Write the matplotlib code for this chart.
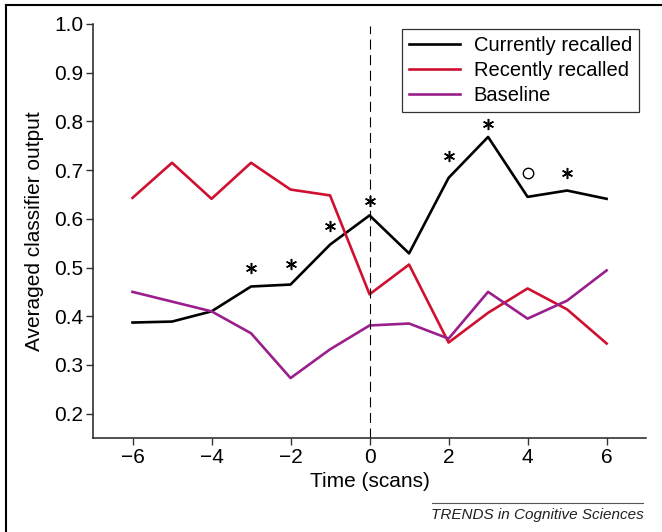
import numpy as np
import matplotlib.pyplot as plt
from matplotlib.lines import Line2D

plt.rcParams['font.family'] = ['Liberation Sans', 'DejaVu Sans']

time = [-6, -5, -4, -3, -2, -1, 0, 1, 2, 3, 4, 5, 6]
current = [0.387, 0.389, 0.410, 0.461, 0.465, 0.547, 0.607, 0.529, 0.684, 0.768, 0.645, 0.658, 0.641]
recent = [0.643, 0.715, 0.641, 0.715, 0.660, 0.648, 0.445, 0.506, 0.346, 0.407, 0.457, 0.414, 0.344]
baseline = [0.450, 0.430, 0.410, 0.365, 0.273, 0.332, 0.381, 0.385, 0.354, 0.450, 0.395, 0.432, 0.494]

# significance marks
star_t = [-3, -2, -1, 0, 2, 3, 5]
star_y = [0.498, 0.508, 0.586, 0.637, 0.728, 0.795, 0.695]
circ_t = [4]
circ_y = [0.693]

red = '#d01030'
purple = '#9a1f8c'

fig = plt.figure(figsize=(6.62, 5.32), dpi=100)
ax = fig.add_axes([0.1405, 0.1767, 0.8355, 0.7783])

ax.plot(time, current, color='black', lw=1.9, label='Currently recalled')
ax.plot(time, recent, color=red, lw=1.9, label='Recently recalled')
ax.plot(time, baseline, color=purple, lw=1.9, label='Baseline')
ax.axvline(0, color='black', lw=0.8, ls=(0, (9, 5)), ymax=0.995)

ax.plot(star_t, star_y, ls='none', marker=(6, 2, 0), ms=8, mew=1.1, color='black')
ax.plot(circ_t, circ_y, ls='none', marker='o', ms=7.5, mfc='none', mec='black', mew=1.0)

ax.set_xlim(-7, 7)
ax.set_ylim(0.15, 1.0)
ax.set_xticks([-6, -4, -2, 0, 2, 4, 6])
ax.set_xticklabels(['\u22126', '\u22124', '\u22122', '0', '2', '4', '6'])
ax.set_yticks(np.arange(0.2, 1.01, 0.1))
ax.set_yticklabels(['%.1f' % v for v in np.arange(0.2, 1.01, 0.1)])
ax.tick_params(direction='out', length=5, width=1, labelsize=15, pad=2, color='#333333')

for s in ['top', 'right']:
    ax.spines[s].set_visible(False)
for s in ['left', 'bottom']:
    ax.spines[s].set_linewidth(1.1)
    ax.spines[s].set_color('#222222')

ax.set_xlabel('Time (scans)', fontsize=15, labelpad=4)
ax.set_ylabel('Averaged classifier output', fontsize=15, labelpad=7)

leg = ax.legend(loc='upper right', bbox_to_anchor=(0.987, 0.988), borderaxespad=0,
                fontsize=14.5, frameon=True, fancybox=False, edgecolor='black',
                handlelength=2.5, labelspacing=0.3, borderpad=0.35,
                handletextpad=0.7)
leg.get_frame().set_linewidth(0.9)

# outer frame (top and left edges visible)
fig.add_artist(Line2D([0.009, 1.0], [0.991, 0.991], color='black', lw=1.5))
fig.add_artist(Line2D([0.009, 0.009], [0.0, 0.991], color='black', lw=1.5))

# journal footer
fig.add_artist(Line2D([0.652, 0.972], [0.055, 0.055], color='#555555', lw=0.8))
fig.text(0.972, 0.032, 'TRENDS in Cognitive Sciences', ha='right', va='center',
         fontsize=11, style='italic', color='#222222')

fig.savefig('out.png', dpi=100)
